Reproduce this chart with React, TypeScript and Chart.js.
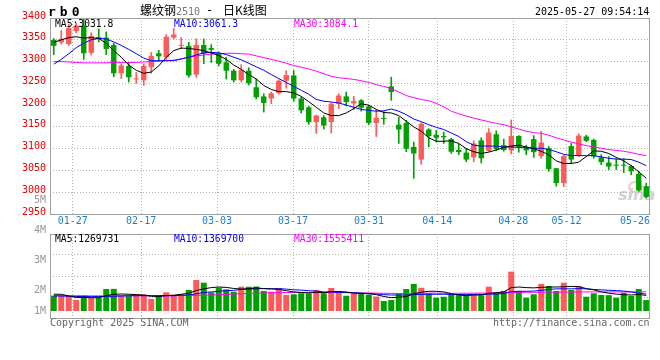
import { useEffect, useRef } from "react";
import { Chart, registerables } from "chart.js";

Chart.register(...registerables);

// ---------- data ----------
const dates = [
  "01-22", "01-23", "01-24", "01-27", "02-05", "02-06", "02-07", "02-10", "02-11", "02-12",
  "02-13", "02-14", "02-17", "02-18", "02-19", "02-20", "02-21", "02-24", "02-25", "02-26",
  "02-27", "02-28", "03-03", "03-04", "03-05", "03-06", "03-07", "03-10", "03-11", "03-12",
  "03-13", "03-14", "03-17", "03-18", "03-19", "03-20", "03-21", "03-24", "03-25", "03-26",
  "03-27", "03-28", "03-31", "04-01", "04-02", "04-03", "04-07", "04-08", "04-09", "04-10",
  "04-11", "04-14", "04-15", "04-16", "04-17", "04-18", "04-21", "04-22", "04-23", "04-24",
  "04-25", "04-28", "04-29", "04-30", "05-06", "05-07", "05-08", "05-09", "05-12", "05-13",
  "05-14", "05-15", "05-16", "05-19", "05-20", "05-21", "05-22", "05-23", "05-26", "05-27",
];

const opens = [
  3350, 3344, 3340, 3370, 3382, 3320, 3356, 3355, 3338, 3273,
  3290, 3259, 3257, 3287, 3319, 3310, 3355, 3336, 3336, 3270,
  3338, 3331, 3320, 3298, 3279, 3257, 3279, 3241, 3220, 3215,
  3228, 3256, 3268, 3215, 3195, 3161, 3172, 3161, 3203, 3220,
  3204, 3211, 3197, 3159, 3170, 3243, 3155, 3159, 3104, 3075,
  3144, 3132, 3129, 3122, 3097, 3091, 3080, 3119, 3095, 3133,
  3108, 3096, 3129, 3102, 3122, 3083, 3101, 3055, 3021, 3106,
  3084, 3128, 3120, 3080, 3068, 3062, 3062, 3060, 3042, 3014,
];
const highs = [
  3353, 3371, 3386, 3388, 3400, 3366, 3375, 3368, 3342, 3295,
  3298, 3275, 3295, 3321, 3326, 3362, 3376, 3355, 3344, 3352,
  3352, 3339, 3322, 3310, 3282, 3293, 3286, 3260, 3226, 3230,
  3258, 3279, 3279, 3218, 3197, 3177, 3176, 3205, 3226, 3230,
  3220, 3213, 3200, 3190, 3185, 3264, 3172, 3165, 3115, 3160,
  3146, 3142, 3138, 3124, 3111, 3100, 3118, 3125, 3146, 3141,
  3122, 3166, 3130, 3108, 3130, 3140, 3105, 3055, 3086, 3112,
  3134, 3131, 3122, 3086, 3082, 3077, 3077, 3062, 3048, 3021,
];
const lows = [
  3316, 3340, 3337, 3366, 3305, 3315, 3345, 3316, 3265, 3261,
  3253, 3250, 3245, 3273, 3300, 3305, 3352, 3329, 3264, 3264,
  3295, 3298, 3290, 3260, 3253, 3253, 3246, 3214, 3184, 3203,
  3225, 3239, 3209, 3182, 3156, 3135, 3145, 3136, 3192, 3198,
  3190, 3186, 3155, 3128, 3156, 3211, 3112, 3093, 3032, 3064,
  3104, 3115, 3112, 3089, 3086, 3070, 3070, 3067, 3093, 3095,
  3094, 3088, 3092, 3086, 3080, 3078, 3048, 3014, 3013, 3066,
  3082, 3116, 3078, 3063, 3052, 3052, 3045, 3040, 3002, 2987,
];
const closes = [
  3336, 3352, 3377, 3382, 3319, 3359, 3352, 3329, 3273, 3291,
  3264, 3261, 3290, 3313, 3312, 3357, 3362, 3337, 3268, 3338,
  3318, 3327, 3295, 3279, 3257, 3281, 3250, 3218, 3205, 3227,
  3256, 3269, 3215, 3188, 3161, 3176, 3153, 3203, 3222, 3207,
  3209, 3194, 3159, 3171, 3168, 3230, 3144, 3100, 3089, 3157,
  3129, 3125, 3126, 3093, 3092, 3075, 3112, 3078, 3137, 3099,
  3097, 3129, 3104, 3096, 3092, 3114, 3053, 3021, 3083, 3075,
  3130, 3118, 3082, 3069, 3059, 3061, 3061, 3048, 3004, 2989,
];

const ma5 = [
  3344, 3350, 3355, 3357, 3354, 3355, 3353, 3342, 3325, 3310,
  3292, 3280, 3273, 3276, 3290, 3310, 3325, 3331, 3330, 3328,
  3325, 3320, 3314, 3305, 3292, 3282, 3270, 3260, 3245, 3236,
  3231, 3231, 3228, 3220, 3208, 3195, 3182, 3176, 3176, 3182,
  3192, 3203, 3200, 3190, 3183, 3182, 3176, 3163, 3150, 3140,
  3125, 3117, 3117, 3118, 3112, 3100, 3093, 3089, 3092, 3097,
  3103, 3106, 3108, 3104, 3100, 3094, 3086, 3072, 3066, 3066,
  3069, 3082, 3095, 3094, 3089, 3080, 3072, 3061, 3047, 3032,
];
const ma10 = [
  3294, 3305, 3318, 3332, 3342, 3350, 3353, 3352, 3345, 3337,
  3328, 3318, 3308, 3302, 3302, 3302, 3302, 3306, 3310, 3315,
  3320, 3321, 3320, 3316, 3310, 3304, 3296, 3288, 3280, 3270,
  3261, 3252, 3243, 3234, 3225, 3213, 3209, 3207, 3205, 3200,
  3195, 3190, 3188, 3186, 3187, 3191, 3186, 3178, 3168, 3162,
  3155, 3149, 3144, 3136, 3128, 3116, 3108, 3106, 3106, 3106,
  3104, 3104, 3103, 3102, 3101, 3101, 3098, 3093, 3087, 3084,
  3084, 3084, 3084, 3081, 3078, 3076, 3076, 3075, 3069, 3061,
];
const ma30 = [
  3300, 3300, 3299, 3298, 3297, 3297, 3297, 3297, 3298, 3298,
  3298, 3298, 3299, 3300, 3301, 3302, 3303, 3306, 3310, 3313,
  3315, 3317, 3318, 3319, 3319, 3318, 3317, 3313, 3309, 3305,
  3301, 3296, 3291, 3287, 3283, 3278, 3272, 3266, 3263, 3261,
  3259, 3256, 3252, 3247, 3243, 3238, 3230, 3222, 3217, 3213,
  3210, 3204, 3196, 3186, 3180, 3175, 3170, 3166, 3162, 3158,
  3155, 3150, 3145, 3140, 3137, 3135, 3131, 3125, 3120, 3115,
  3111, 3107, 3104, 3101, 3098, 3096, 3094, 3091, 3087, 3084,
];

// volumes in millions
const volumes = [
  1.25, 1.24, 1.23, 0.89, 1.26, 1.08, 1.07, 1.79, 1.8, 1.24,
  1.23, 1.36, 1.35, 0.98, 1.3, 1.52, 1.24, 1.36, 1.71, 2.52,
  2.3, 1.52, 1.89, 1.76, 1.57, 1.98, 1.97, 1.99, 1.63, 1.57,
  1.85, 1.3, 1.36, 1.44, 1.43, 1.71, 1.44, 1.87, 1.63, 1.24,
  1.41, 1.44, 1.33, 1.18, 0.81, 0.89, 1.38, 1.79, 2.2, 1.89,
  1.44, 1.08, 1.16, 1.3, 1.29, 1.31, 1.3, 1.28, 1.98, 1.49,
  1.63, 3.2, 1.63, 1.08, 1.36, 2.2, 2.03, 1.63, 2.3, 1.71,
  2.03, 1.16, 1.44, 1.3, 1.29, 1.08, 1.49, 1.22, 1.79, 0.89,
];
const volMa5 = [
  1.36, 1.36, 1.22, 1.1, 1.1, 1.08, 1.08, 1.25, 1.36, 1.38,
  1.36, 1.33, 1.3, 1.2, 1.18, 1.26, 1.28, 1.36, 1.44, 1.66,
  1.8, 1.9, 1.95, 1.92, 1.83, 1.78, 1.82, 1.88, 1.82, 1.8,
  1.75, 1.65, 1.55, 1.5, 1.47, 1.52, 1.48, 1.58, 1.58, 1.55,
  1.45, 1.43, 1.43, 1.33, 1.18, 1.08, 1.12, 1.17, 1.4, 1.53,
  1.6, 1.6, 1.55, 1.4, 1.3, 1.25, 1.3, 1.3, 1.43, 1.48,
  1.55, 1.9, 1.95, 1.9, 1.88, 1.92, 1.95, 1.95, 1.97, 2.0,
  1.98, 1.82, 1.72, 1.55, 1.45, 1.37, 1.32, 1.3, 1.34, 1.27,
];
const volMa10 = [
  1.22, 1.22, 1.2, 1.18, 1.17, 1.17, 1.17, 1.18, 1.2, 1.22,
  1.24, 1.25, 1.25, 1.24, 1.24, 1.24, 1.25, 1.28, 1.3, 1.4,
  1.5, 1.55, 1.6, 1.65, 1.68, 1.75, 1.78, 1.8, 1.82, 1.8,
  1.82, 1.78, 1.72, 1.7, 1.65, 1.62, 1.55, 1.54, 1.52, 1.5,
  1.48, 1.45, 1.4, 1.38, 1.33, 1.3, 1.3, 1.3, 1.33, 1.35,
  1.36, 1.36, 1.36, 1.34, 1.34, 1.33, 1.35, 1.35, 1.37, 1.38,
  1.42, 1.56, 1.6, 1.6, 1.62, 1.68, 1.75, 1.8, 1.8, 1.8,
  1.82, 1.8, 1.75, 1.72, 1.68, 1.66, 1.62, 1.55, 1.45, 1.37,
];
const volMa30 = [
  1.25, 1.25, 1.24, 1.24, 1.24, 1.23, 1.23, 1.24, 1.24, 1.24,
  1.24, 1.24, 1.24, 1.23, 1.23, 1.24, 1.24, 1.25, 1.26, 1.27,
  1.28, 1.3, 1.32, 1.35, 1.38, 1.4, 1.42, 1.44, 1.46, 1.48,
  1.49, 1.5, 1.5, 1.51, 1.51, 1.51, 1.5, 1.5, 1.5, 1.49,
  1.48, 1.47, 1.46, 1.45, 1.44, 1.43, 1.42, 1.42, 1.43, 1.44,
  1.45, 1.45, 1.44, 1.44, 1.44, 1.44, 1.45, 1.45, 1.46, 1.47,
  1.48, 1.5, 1.51, 1.52, 1.52, 1.52, 1.53, 1.53, 1.54, 1.54,
  1.55, 1.55, 1.55, 1.55, 1.55, 1.55, 1.55, 1.55, 1.56, 1.555,
];

const xTickLabels = ["01-27", "02-17", "03-03", "03-17", "03-31", "04-14", "04-28", "05-12", "05-26"];
const priceAxis = { min: 2950, max: 3400, step: 50 };
const volAxis = { min: -0.57, max: 6.26 };
const volLabelAxis = { min: 1.0667, max: 3.8667 };
const volTickLabels = ["1M", "2M", "3M", "4M", "5M"];
const volTickValues = [1, 2, 3, 4, 5];

const priceLegend = ["MA5:3031.8", "MA10:3061.3", "MA30:3084.1"];
const volLegend = ["MA5:1269731", "MA10:1369700", "MA30:1555411"];

// ---------- styles ----------
const UP = "#ff5a5a";
const DOWN = "#00a000";
const GRID = "#b4b4b4";
const BOX = "#a0a0a0";
const MONO = '"DejaVu Sans Mono", monospace';
const CJK = '"Noto Sans CJK SC", sans-serif';

const candleColors = closes.map((c, i) => (c >= opens[i] ? UP : DOWN));
const gridValue = (k: number) => (k * dates.length) / (dates.length - 1) - 0.5;
const gridTicks = () => xTickLabels.map((d) => ({ value: gridValue(dates.indexOf(d)) }));

function xScale(height: number): any {
  return {
    type: "linear",
    min: -0.5,
    max: dates.length - 0.5,
    offset: false,
    afterBuildTicks: (s: any) => {
      s.ticks = gridTicks();
    },
    afterFit: (s: any) => {
      s.height = height;
    },
    ticks: { display: false },
    grid: {
      offset: false,
      drawTicks: false,
      lineWidth: 1,
      color: (c: any) => (c.tick && c.tick.value > dates.length - 3 ? "rgba(0,0,0,0)" : GRID),
    },
    border: { display: false, dash: [1, 2] },
  };
}

const lineDs = (vals: number[], color: string): any => ({
  type: "line",
  data: vals.map((y, x) => ({ x, y })),
  borderColor: color,
  borderWidth: 1,
  pointRadius: 0,
  tension: 0,
  order: 0,
});

const boxPlugin = {
  id: "box",
  afterDraw(chart: any) {
    const { ctx, chartArea: a } = chart;
    ctx.save();
    ctx.strokeStyle = BOX;
    ctx.lineWidth = 1;
    ctx.strokeRect(Math.round(a.left) + 0.5, Math.round(a.top) + 0.5, Math.round(a.right - a.left) - 1, Math.round(a.bottom - a.top));
    ctx.restore();
  },
};

const xLabelPlugin = {
  id: "xlabels",
  afterDraw(chart: any) {
    const { ctx, chartArea: a } = chart;
    const sx = chart.scales.x;
    ctx.save();
    ctx.font = `10px ${MONO}`;
    ctx.fillStyle = "#1a7fd4";
    ctx.textAlign = "left";
    ctx.textBaseline = "middle";
    xTickLabels.forEach((lbl) => {
      const px = sx.getPixelForValue(gridValue(dates.indexOf(lbl)));
      const w = ctx.measureText(lbl).width;
      let left = px - w / 2;
      left = Math.max(a.left, Math.min(left, a.right - w));
      ctx.fillText(lbl, left, a.bottom + 7.5);
    });
    ctx.restore();
  },
};

const volLabelPlugin = {
  id: "vollabels",
  afterDraw(chart: any) {
    const { ctx, chartArea: a } = chart;
    const sl = chart.scales.yl;
    const base = chart.scales.y.getPixelForValue(0);
    ctx.save();
    ctx.font = `10px ${MONO}`;
    ctx.fillStyle = "#999999";
    ctx.textAlign = "right";
    ctx.textBaseline = "middle";
    volTickValues.forEach((v, i) => {
      const y = Math.min(sl.getPixelForValue(v), base);
      ctx.fillText(volTickLabels[i], a.left - 4, y);
    });
    ctx.restore();
  },
};

const txt = (extra: any): any => ({
  position: "absolute",
  whiteSpace: "nowrap",
  margin: 0,
  ...extra,
});

export default function App() {
  const priceRef = useRef<HTMLCanvasElement>(null);
  const volRef = useRef<HTMLCanvasElement>(null);

  useEffect(() => {
    const pc = new Chart(priceRef.current as HTMLCanvasElement, {
      type: "bar",
      data: {
        datasets: [
          lineDs(ma5, "#000000"),
          lineDs(ma10, "#0000ff"),
          lineDs(ma30, "#ff00ff"),
          {
            type: "bar",
            data: opens.map((o, i) => ({ x: i, y: [o, closes[i]] })) as any,
            backgroundColor: candleColors,
            borderWidth: 0,
            barPercentage: 0.72,
            categoryPercentage: 1,
            grouped: false,
            minBarLength: 1,
            order: 1,
          } as any,
          {
            type: "bar",
            data: lows.map((l, i) => ({ x: i, y: [l, highs[i]] })) as any,
            backgroundColor: candleColors,
            borderWidth: 0,
            barThickness: 1,
            grouped: false,
            minBarLength: 1,
            order: 2,
          } as any,
        ],
      },
      options: {
        responsive: false,
        animation: false,
        events: [],
        layout: { padding: { left: 0, right: 10, top: 18, bottom: 0 } },
        plugins: { legend: { display: false }, tooltip: { enabled: false } },
        scales: {
          x: xScale(18),
          y: {
            type: "linear",
            min: priceAxis.min,
            max: priceAxis.max,
            afterFit: (s: any) => {
              s.width = 50;
            },
            ticks: {
              stepSize: priceAxis.step,
              color: "#ee0000",
              font: { family: "DejaVu Sans Mono", size: 10 },
              padding: 4,
              labelOffset: -2,
              autoSkip: false,
              callback: (v: any) => String(v),
            },
            grid: { drawTicks: false, color: GRID, lineWidth: 1 },
            border: { display: false, dash: [1, 2] },
          } as any,
        },
      } as any,
      plugins: [boxPlugin, xLabelPlugin],
    });

    const vc = new Chart(volRef.current as HTMLCanvasElement, {
      type: "bar",
      data: {
        datasets: [
          lineDs(volMa5, "#000000"),
          lineDs(volMa10, "#0000ff"),
          lineDs(volMa30, "#ff00ff"),
          {
            type: "bar",
            data: volumes.map((v, i) => ({ x: i, y: v })) as any,
            backgroundColor: candleColors,
            borderWidth: 0,
            barPercentage: 0.8,
            categoryPercentage: 1,
            grouped: false,
            order: 1,
          } as any,
        ],
      },
      options: {
        responsive: false,
        animation: false,
        events: [],
        layout: { padding: { left: 0, right: 10, top: 44, bottom: 0 } },
        plugins: { legend: { display: false }, tooltip: { enabled: false } },
        scales: {
          x: xScale(12),
          y: {
            type: "linear",
            min: volAxis.min,
            max: volAxis.max,
            afterBuildTicks: (s: any) => {
              s.ticks = [1, 2, 3].map((j) => ({ value: volAxis.min + ((volAxis.max - volAxis.min) * j) / 4 }));
            },
            afterFit: (s: any) => {
              s.width = 50;
            },
            ticks: { display: false },
            grid: { drawTicks: false, color: GRID, lineWidth: 1 },
            border: { display: false, dash: [1, 2] },
          } as any,
          yl: {
            type: "linear",
            display: false,
            min: volLabelAxis.min,
            max: volLabelAxis.max,
          } as any,
        },
      } as any,
      plugins: [boxPlugin, volLabelPlugin],
    });

    return () => {
      pc.destroy();
      vc.destroy();
    };
  }, []);

  const mono = (size: number, color: string) => ({ fontFamily: MONO, fontSize: size, lineHeight: `${size}px`, color });

  return (
    <div style={{ position: "absolute", left: 0, top: 0, width: 660, height: 360, background: "#fff", overflow: "hidden" }}>
      {/* watermark */}
      <div style={txt({ left: 628, top: 181, width: 11, height: 8, border: "2px solid rgba(240,150,150,0.55)", borderRadius: "50%" })} />
      <div style={txt({ left: 618, top: 187, fontFamily: '"DejaVu Sans", sans-serif', fontSize: 16, lineHeight: "16px", fontStyle: "italic", fontWeight: "bold", color: "#d2d2d2" })}>sina</div>

      <canvas ref={priceRef} width={660} height={232} style={{ position: "absolute", left: 0, top: 0, width: 660, height: 232 }} />
      <canvas ref={volRef} width={660} height={140} style={{ position: "absolute", left: 0, top: 190, width: 660, height: 140 }} />

      {/* header */}
      <div style={txt({ left: 48, top: 5, fontFamily: MONO, fontSize: 13, lineHeight: "13px", fontWeight: "bold", letterSpacing: "4px", color: "#000" })}>rb0</div>
      <div style={txt({ left: 140, top: 4, fontFamily: CJK, fontSize: 12, lineHeight: "12px", color: "#000" })}>螺纹钢</div>
      <div style={txt({ left: 176, top: 6.5, ...mono(10, "#777") })}>2510</div>
      <div style={txt({ left: 206, top: 4, fontFamily: MONO, fontSize: 12, lineHeight: "12px", color: "#000" })}>-</div>
      <div style={txt({ left: 223, top: 4, fontFamily: CJK, fontSize: 12, lineHeight: "12px", color: "#000" })}>日K线图</div>
      <div style={txt({ left: 535, top: 6.5, ...mono(10, "#000") })}>2025-05-27 09:54:14</div>

      {/* price legend */}
      <div style={txt({ left: 55, top: 18.5, ...mono(9.7, "#000") })}>{priceLegend[0]}</div>
      <div style={txt({ left: 174, top: 18.5, ...mono(9.7, "#0000ff") })}>{priceLegend[1]}</div>
      <div style={txt({ left: 294, top: 18.5, ...mono(9.7, "#ff00ff") })}>{priceLegend[2]}</div>

      {/* volume legend */}
      <div style={txt({ left: 55, top: 233.5, ...mono(9.7, "#000") })}>{volLegend[0]}</div>
      <div style={txt({ left: 174, top: 233.5, ...mono(9.7, "#0000ff") })}>{volLegend[1]}</div>
      <div style={txt({ left: 294, top: 233.5, ...mono(9.7, "#ff00ff") })}>{volLegend[2]}</div>

      {/* footer */}
      <div style={txt({ left: 50, top: 317.5, ...mono(10, "#666") })}>Copyright 2025 SINA.COM</div>
      <div style={txt({ left: 493, top: 317.5, ...mono(10, "#666") })}>http://finance.sina.com.cn</div>
    </div>
  );
}
